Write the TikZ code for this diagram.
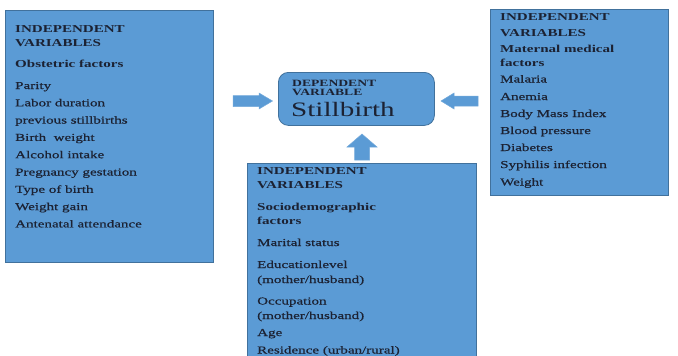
\documentclass[tikz,border=0pt]{standalone}
\usepackage{fontspec}
\setmainfont[FakeStretch=1.42]{Liberation Serif}
\newfontfamily\itemfont[FakeStretch=1.42,FakeBold=0.6]{Liberation Serif}
\definecolor{boxblue}{HTML}{5B9BD5}
\definecolor{boxedge}{HTML}{41719C}
\definecolor{txt}{HTML}{1C2233}
\begin{document}
\begin{tikzpicture}[x=1pt,y=-1pt,
  panel/.style={draw=boxedge, fill=boxblue, line width=0.8pt, anchor=north west, inner sep=0pt},
  hd/.style={anchor=base west, inner sep=0pt, font=\fontsize{10.6}{12}\selectfont\bfseries, text=txt},
  it/.style={anchor=base west, inner sep=0pt, font=\itemfont\fontsize{10.6}{12}\selectfont, text=txt},
  blockarrow/.style={fill=boxblue, draw=boxblue!85!white, line width=0.5pt}]
\useasboundingbox (0,0) rectangle (678,356);
\fill[white] (0,0) rectangle (678,356);

% panels
\node[panel, minimum width=208pt, minimum height=252pt] (left) at (5,10) {};
\node[panel, minimum width=178pt, minimum height=186pt] (right) at (490,9) {};
\node[panel, minimum width=229pt, minimum height=200pt] (bottom) at (247,163) {};
\node[panel, rounded corners=10pt, minimum width=156pt, minimum height=53pt] (dep) at (278,72) {};

% block arrows
\fill[blockarrow] (233,95.5) -- (259,95.5) -- (259,93) -- (272.5,101) -- (259,109) -- (259,106.5) -- (233,106.5) -- cycle;
\fill[blockarrow] (478,96) -- (454,96) -- (454,93) -- (441,101) -- (454,109) -- (454,106) -- (478,106) -- cycle;
\fill[blockarrow] (354.5,160) -- (354.5,147) -- (347,147) -- (362,134) -- (377,147) -- (369.5,147) -- (369.5,160) -- cycle;

% centre
\node[hd, font=\fontsize{9.6}{11}\selectfont\bfseries] (d1) at (292,86) {DEPENDENT};
\node[hd, font=\fontsize{9.6}{11}\selectfont\bfseries] (d2) at (292,95) {VARIABLE};
\node[anchor=base west, inner sep=0pt, text=txt, font=\fontsize{20.5}{24}\selectfont] (d3) at (291,116) {Stillbirth};

% left panel
\node[hd] (l1) at (15,32) {INDEPENDENT};
\node[hd] (l2) at (15,46) {VARIABLES};
\node[hd] (l3) at (15,67) {Obstetric factors};
\node[it] (l4) at (15,89) {Parity};
\node[it] (l5) at (15,106.3) {Labor duration};
\node[it] (l6) at (15,123.6) {previous stillbirths};
\node[it] (l7) at (15,140.9) {Birth\ \ weight};
\node[it] (l8) at (15,158.2) {Alcohol intake};
\node[it] (l9) at (15,175.5) {Pregnancy gestation};
\node[it] (l10) at (15,192.8) {Type of\ birth};
\node[it] (l11) at (15,210.1) {Weight gain};
\node[it] (l12) at (15,227.4) {Antenatal attendance};

% right panel
\node[hd] (r1) at (500,20.5) {INDEPENDENT};
\node[hd] (r2) at (500,36) {VARIABLES};
\node[hd] (r3) at (500,52) {Maternal medical};
\node[hd] (r4) at (500,66) {factors};
\node[it] (r5) at (500,82.5) {Malaria};
\node[it] (r6) at (500,100) {Anemia};
\node[it] (r7) at (500,117) {Body Mass Index};
\node[it] (r8) at (500,134) {Blood pressure};
\node[it] (r9) at (500,151) {Diabetes};
\node[it] (r10) at (500,168) {Syphilis infection};
\node[it] (r11) at (500,185.5) {Weight};

% bottom panel
\node[hd] (b1) at (257,174.5) {INDEPENDENT};
\node[hd] (b2) at (257,188.5) {VARIABLES};
\node[hd] (b3) at (257,210.5) {Sociodemographic};
\node[hd] (b4) at (257,224.5) {factors};
\node[it] (b5) at (257,246) {Marital status};
\node[it] (b6) at (257,268) {Educationlevel};
\node[it] (b7) at (257,283) {(mother/husband)};
\node[it] (b8) at (257,304.5) {Occupation};
\node[it] (b9) at (257,319) {(mother/husband)};
\node[it] (b10) at (257,336) {Age};
\node[it] (b11) at (257,353.5) {Residence (urban/rural)};
\end{tikzpicture}
\end{document}
